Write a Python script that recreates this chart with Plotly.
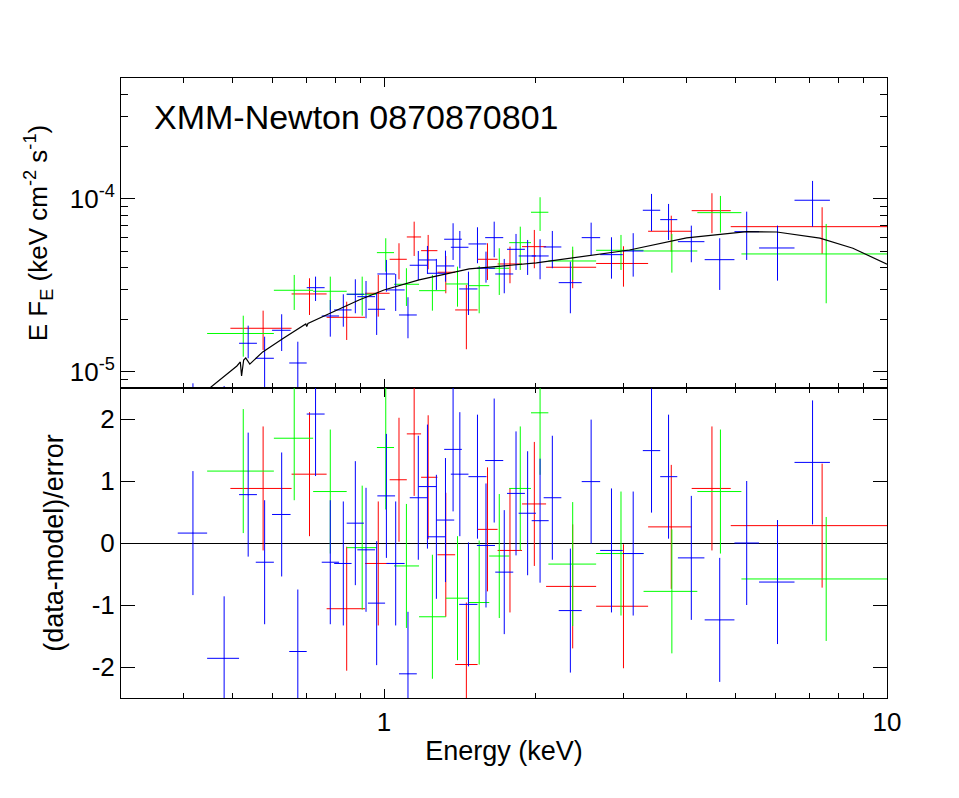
import numpy as np
import plotly.graph_objects as go
from plotly.subplots import make_subplots

# ---- red data group ----
red_e = [0.575, 0.711, 0.843, 0.974, 1.071, 1.148, 1.224, 1.327, 1.458, 1.606, 1.780, 1.990, 2.372, 2.993, 3.725, 4.487, 7.43]
red_e_lo = [0.495, 0.655, 0.769, 0.917, 1.026, 1.110, 1.185, 1.277, 1.385, 1.535, 1.682, 1.881, 2.100, 2.641, 3.350, 4.090, 4.89]
red_e_hi = [0.655, 0.769, 0.917, 1.026, 1.110, 1.185, 1.277, 1.385, 1.535, 1.682, 1.881, 2.100, 2.641, 3.350, 4.090, 4.890, 10.0]
red_f = [1.789e-5, 2.825e-5, 2.07e-5, 2.85e-5, 4.48e-5, 6.03e-5, 5.024e-5, 3.77e-5, 2.283e-5, 4.48e-5, 4.21e-5, 5.3e-5, 4.03e-5, 4.237e-5, 6.506e-5, 8.557e-5, 6.915e-5]
red_f_lo = [1.341e-5, 2.135e-5, 1.531e-5, 2.088e-5, 3.434e-5, 4.683e-5, 3.924e-5, 2.85e-5, 1.353e-5, 3.402e-5, 3.257e-5, 3.977e-5, 3.047e-5, 3.112e-5, 4.96e-5, 6.34e-5, 4.81e-5]
red_f_hi = [2.261e-5, 3.48e-5, 2.549e-5, 3.637e-5, 5.545e-5, 7.39e-5, 6.194e-5, 4.683e-5, 3.184e-5, 5.545e-5, 5.3e-5, 6.62e-5, 5.071e-5, 5.328e-5, 8.0e-5, 1.079e-4, 8.953e-5]
red_res = [0.88, 1.11, -1.06, -0.33, 1.02, 1.76, 1.06, -0.19, -1.96, 0.22, -0.12, 0.63, -0.70, -1.02, 0.26, 0.88, 0.28]

# ---- green data group ----
green_e = [0.525, 0.663, 0.782, 0.905, 1.008, 1.108, 1.248, 1.400, 1.546, 1.695, 1.866, 2.043, 2.372, 2.959, 3.735, 4.665, 7.57]
green_e_lo = [0.445, 0.604, 0.723, 0.843, 0.968, 1.047, 1.174, 1.327, 1.472, 1.619, 1.774, 1.960, 2.122, 2.641, 3.281, 4.197, 5.135]
green_e_hi = [0.604, 0.723, 0.843, 0.968, 1.047, 1.174, 1.327, 1.472, 1.619, 1.774, 1.960, 2.122, 2.641, 3.281, 4.197, 5.135, 10.0]
green_f = [1.669e-5, 2.966e-5, 2.927e-5, 2.813e-5, 4.894e-5, 3.213e-5, 2.951e-5, 3.226e-5, 3.154e-5, 3.977e-5, 5.59e-5, 8.377e-5, 4.38e-5, 5.05e-5, 5.003e-5, 8.333e-5, 4.81e-5]
green_f_lo = [1.226e-5, 2.283e-5, 2.283e-5, 2.115e-5, 3.8e-5, 2.407e-5, 2.261e-5, 2.385e-5, 2.184e-5, 2.787e-5, 3.888e-5, 6.531e-5, 3.402e-5, 3.888e-5, 3.75e-5, 6.388e-5, 2.495e-5]
green_f_hi = [2.115e-5, 3.637e-5, 3.556e-5, 3.556e-5, 5.927e-5, 3.977e-5, 3.637e-5, 4.063e-5, 4.1e-5, 5.188e-5, 6.915e-5, 1.023e-4, 5.3e-5, 6.194e-5, 6.277e-5, 1.041e-4, 7.17e-5]
green_res = [1.16, 1.69, 0.83, -0.075, 1.54, -0.37, -1.19, -0.89, -0.96, -0.21, 0.88, 2.10, -0.34, -0.17, -0.78, 0.83, -0.58]

# ---- blue data group ----
blue_e = [0.417, 0.481, 0.537, 0.579, 0.626, 0.674, 0.731, 0.782, 0.830, 0.877, 0.921, 0.967, 1.011, 1.055,
          1.116, 1.170, 1.220, 1.271, 1.325, 1.372, 1.415, 1.472, 1.534, 1.595, 1.656, 1.734, 1.830, 1.930,
          2.043, 2.161, 2.347, 2.581, 2.833, 3.129, 3.403, 3.679, 4.083, 4.65, 5.261, 6.058, 7.112]
blue_e_lo = [0.389, 0.445, 0.515, 0.556, 0.599, 0.648, 0.702, 0.752, 0.796, 0.843, 0.885, 0.929, 0.970, 1.011,
             1.071, 1.125, 1.170, 1.220, 1.271, 1.317, 1.358, 1.411, 1.472, 1.530, 1.589, 1.664, 1.756, 1.852,
             1.966, 2.077, 2.225, 2.472, 2.690, 2.983, 3.270, 3.541, 3.840, 4.340, 4.974, 5.567, 6.548]
blue_e_hi = [0.445, 0.515, 0.559, 0.604, 0.652, 0.702, 0.762, 0.814, 0.862, 0.912, 0.960, 1.005, 1.052, 1.099,
             1.162, 1.220, 1.271, 1.323, 1.379, 1.428, 1.472, 1.534, 1.599, 1.662, 1.726, 1.807, 1.906, 2.005,
             2.125, 2.252, 2.472, 2.690, 2.983, 3.281, 3.541, 3.829, 4.335, 4.974, 5.567, 6.548, 7.70]
blue_f = [6.8e-6, 5.5e-6, 1.465e-5, 1.2e-5, 1.742e-5, 1.127e-5, 3.07e-5, 2.107e-5, 2.283e-5, 2.813e-5, 2.724e-5,
          2.304e-5, 3.685e-5, 2.979e-5, 2.135e-5, 4.138e-5, 4.44e-5, 3.719e-5, 4.1e-5, 5.85e-5, 5.256e-5, 3.019e-5,
          5.494e-5, 3.977e-5, 5.975e-5, 3.685e-5, 5.117e-5, 4.683e-5, 4.683e-5, 5.277e-5, 3.283e-5, 5.975e-5,
          4.765e-5, 5.003e-5, 8.603e-5, 7.594e-5, 5.664e-5, 4.458e-5, 6.471e-5, 5.208e-5, 9.829e-5]
blue_f_lo = [4.9e-6, 2.8e-6, 1.2e-5, 7.9e-6, 1.322e-5, 7.5e-6, 2.572e-5, 1.6e-5, 1.827e-5, 2.184e-5, 2.044e-5,
             1.637e-5, 2.911e-5, 2.252e-5, 1.566e-5, 3.402e-5, 3.685e-5, 2.979e-5, 3.327e-5, 4.44e-5, 3.977e-5, 2.135e-5,
             4.248e-5, 3.283e-5, 4.603e-5, 2.85e-5, 3.888e-5, 3.637e-5, 3.434e-5, 3.977e-5, 2.184e-5, 4.746e-5,
             3.462e-5, 3.556e-5, 6.531e-5, 5.794e-5, 4.305e-5, 2.979e-5, 4.44e-5, 3.371e-5, 6.915e-5]
blue_f_hi = [8.6e-6, 8.3e-6, 1.852e-5, 1.6e-5, 2.156e-5, 1.496e-5, 3.556e-5, 2.606e-5, 2.813e-5, 3.434e-5, 3.357e-5,
             2.85e-5, 4.44e-5, 3.685e-5, 2.703e-5, 5.003e-5, 5.35e-5, 4.5e-5, 5.024e-5, 7.236e-5, 6.531e-5, 3.8e-5,
             6.86e-5, 4.96e-5, 7.39e-5, 4.5e-5, 6.277e-5, 5.794e-5, 5.85e-5, 6.531e-5, 4.34e-5, 7.295e-5,
             6.007e-5, 6.34e-5, 1.069e-4, 9.357e-5, 7.01e-5, 5.927e-5, 8.444e-5, 7.01e-5, 1.271e-4]
blue_res = [0.16, -1.86, 0.78, -0.31, 0.46, -1.75, 2.08, -0.31, -0.33, 0.32, -0.11, -0.97, 0.76, -0.33,
            -2.11, 0.73, 0.91, 0.10, 0.37, 1.51, 1.11, -0.99, 1.07, -0.04, 1.33, -0.47, 0.80, 0.48,
            0.36, 0.73, -1.09, 0.99, -0.12, -0.17, 1.49, 1.07, -0.24, -1.24, 0.0, -0.63, 1.30]

# ---- best-fit model curve ----
model_e = [0.30, 0.450, 0.510, 0.518, 0.521, 0.526, 0.531, 0.541, 0.574, 0.632, 0.699, 0.702, 0.706,
           0.791, 0.892, 1.0, 1.174, 1.477, 2.008, 3.076, 3.996, 5.261, 6.04, 7.355, 8.555, 10.0]
model_f = [3.1e-6, 8.08e-6, 1.083e-5, 1.143e-5, 9.48e-6, 1.173e-5, 1.205e-5, 1.111e-5, 1.306e-5, 1.572e-5,
           1.895e-5, 1.833e-5, 1.908e-5, 2.223e-5, 2.608e-5, 2.978e-5, 3.404e-5, 3.94e-5, 4.266e-5, 5.07e-5,
           5.95e-5, 6.47e-5, 6.44e-5, 5.93e-5, 5.19e-5, 4.195e-5]

groups = [
    ('#ff0000', red_e, red_e_lo, red_e_hi, red_f, red_f_lo, red_f_hi, red_res),
    ('#00ff00', green_e, green_e_lo, green_e_hi, green_f, green_f_lo, green_f_hi, green_res),
    ('#0000ff', blue_e, blue_e_lo, blue_e_hi, blue_f, blue_f_lo, blue_f_hi, blue_res),
]

FONT = 'Liberation Sans'

fig = make_subplots(rows=2, cols=1, shared_xaxes=True, vertical_spacing=0)

for col, e, elo, ehi, f, flo, fhi, res in groups:
    e = np.array(e)
    f = np.array(f)
    xerr = dict(type='data', symmetric=False, array=np.array(ehi) - e, arrayminus=e - np.array(elo),
                width=0, thickness=1, color=col)
    fig.add_trace(go.Scatter(x=e, y=f, mode='markers', marker=dict(size=1, color=col),
                             error_x=xerr,
                             error_y=dict(type='data', symmetric=False, array=np.array(fhi) - f,
                                          arrayminus=f - np.array(flo), width=0, thickness=1, color=col),
                             showlegend=False), row=1, col=1)
    fig.add_trace(go.Scatter(x=e, y=res, mode='markers', marker=dict(size=1, color=col),
                             error_x=xerr,
                             error_y=dict(type='constant', value=1, width=0, thickness=1, color=col),
                             showlegend=False), row=2, col=1)

fig.add_trace(go.Scatter(x=model_e, y=model_f, mode='lines', line=dict(color='black', width=1.2),
                         showlegend=False), row=1, col=1)

minor_x = [0.3, 0.4, 0.5, 0.6, 0.7, 0.8, 0.9, 2, 3, 4, 5, 6, 7, 8, 9]
minor_y = [9e-6, 2e-5, 3e-5, 4e-5, 5e-5, 6e-5, 7e-5, 8e-5, 9e-5, 2e-4, 3e-4, 4e-4, 5e-4]

axis_common = dict(showline=True, linecolor='black', linewidth=1, mirror='ticks', ticks='inside',
                   tickcolor='black', showgrid=False, zeroline=False)

fig.update_xaxes(type='log', range=[np.log10(0.3), 1.0], tickvals=[1, 10], ticktext=['1', '10'],
                 ticklen=9, minor=dict(tickmode='array', tickvals=minor_x, ticks='inside', ticklen=5,
                                       tickcolor='black', showgrid=False),
                 **axis_common)
fig.update_xaxes(showticklabels=False, row=1, col=1)
fig.update_xaxes(title=dict(text='Energy (keV)', font=dict(size=27), standoff=4),
                 ticklabelstandoff=1, row=2, col=1)

fig.update_yaxes(type='log', range=[np.log10(8.08e-6), np.log10(5.0e-4)], tickvals=[1e-5, 1e-4],
                 ticktext=['10<sup>-5</sup>', '10<sup>-4</sup>'], ticklen=14,
                 minor=dict(tickmode='array', tickvals=minor_y, ticks='inside', ticklen=7,
                            tickcolor='black', showgrid=False),
                 title=dict(text='E F<sub>E</sub> (keV cm<sup>-2</sup> s<sup>-1</sup>)', font=dict(size=26),
                            standoff=14),
                 row=1, col=1, **axis_common)
fig.update_yaxes(range=[-2.5, 2.5], tickvals=[-2, -1, 0, 1, 2], ticktext=['-2', '-1', '0', '1', '2'],
                 ticklen=14, title=dict(text='(data-model)/error', font=dict(size=27), standoff=20),
                 row=2, col=1, **axis_common)
fig.update_yaxes(zeroline=True, zerolinecolor='black', zerolinewidth=1, row=2, col=1)

fig.add_annotation(text='XMM-Newton 0870870801', xref='paper', yref='paper', x=0.041, y=0.937,
                   xanchor='left', yanchor='middle', showarrow=False, font=dict(size=34, color='black'))

# the page body adds an 8px offset, so the figure is sized to fit inside the window
fig.update_layout(width=943, height=782, autosize=False, plot_bgcolor='white', paper_bgcolor='white',
                  font=dict(family=FONT, size=26, color='black'),
                  margin=dict(l=113, r=64, t=70, b=92))

fig.write_html("out.html")
